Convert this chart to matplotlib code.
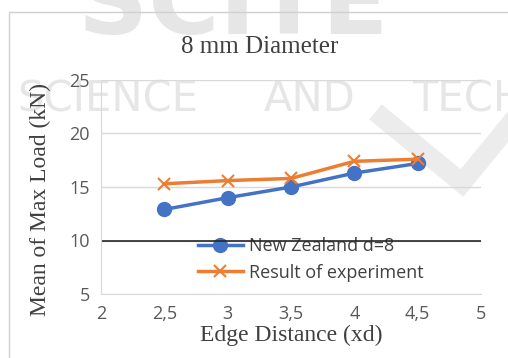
import matplotlib.pyplot as plt
from matplotlib.patches import Rectangle
from matplotlib.lines import Line2D

edge = [2.5, 3, 3.5, 4, 4.5]
nz_d8 = [12.9, 14.0, 15.0, 16.3, 17.2]
experiment = [15.3, 15.6, 15.8, 17.4, 17.6]
xticks = [2, 2.5, 3, 3.5, 4, 4.5, 5]
xticklabels = ["2", "2,5", "3", "3,5", "4", "4,5", "5"]
yticks = [5, 10, 15, 20, 25]

W, H = 508, 358
fig = plt.figure(figsize=(5.08, 3.58), dpi=100)

# faint publisher watermark behind the chart
wm = "#e6e6e6"
for word, xc in [("SCIENCE", 108), ("AND", 310), ("TECH", 468)]:
    fig.text(xc / W, 1 - 99 / H, word, ha="center", va="center", fontsize=30,
             color=wm, family="DejaVu Sans", zorder=0)
fig.text(0.46, 1 - 34 / H, "SCITE", ha="center", va="baseline", fontsize=70,
         color=wm, family="DejaVu Sans", fontweight="bold", zorder=0)
fig.lines.append(Line2D([383 / W, 462 / W, 520 / W], [1 - 118 / H, 1 - 183 / H, 1 - 112 / H],
                        transform=fig.transFigure, color="#ececec", lw=14, zorder=0,
                        solid_joinstyle="miter"))
fig.patches.append(Rectangle((9 / W, -0.1), 1.2, 1.1 - 12 / H, transform=fig.transFigure,
                             fill=False, edgecolor="#d0d0d0", lw=1, zorder=1))

ax = fig.add_axes([101 / W, 1 - 294 / H, 380 / W, 214 / H])
ax.set_zorder(2)
ax.patch.set_alpha(0)

ax.plot(edge, nz_d8, color="#4472C4", lw=2.5, marker="o", markersize=10,
        label="New Zealand d=8", zorder=3)
ax.plot(edge, experiment, color="#ED7D31", lw=2.5, marker="x", markersize=8,
        markeredgewidth=1.5, label="Result of experiment", zorder=3)

ax.set_xlim(2, 5)
ax.set_ylim(5, 25)
ax.set_xticks(xticks)
ax.set_xticklabels(xticklabels)
ax.set_yticks(yticks)
ax.grid(axis="y", color="#d9d9d9", lw=1)
ax.axhline(10, color="#262626", lw=1.2, zorder=2)
ax.set_axisbelow(True)
for s in ["top", "right"]:
    ax.spines[s].set_visible(False)
ax.spines["left"].set_color("#d9d9d9")
ax.spines["bottom"].set_color("#d9d9d9")
ax.tick_params(length=0, labelsize=13, labelcolor="#595959", pad=8)
for lab in ax.get_xticklabels() + ax.get_yticklabels():
    lab.set_family("Open Sans")

serif = "Liberation Serif"
fig.text(0.512, 1 - 47 / H, "8 mm Diameter", ha="center", va="center",
         fontsize=18, family=serif, color="#404040", zorder=3)
ax.set_xlabel("Edge Distance (xd)", fontsize=17, family=serif, color="#404040", labelpad=1)
fig.text(40 / W, 1 - 200 / H, "Mean of Max Load (kN)", rotation=90, ha="center",
         va="center", fontsize=17, family=serif, color="#404040", zorder=3)

leg = ax.legend(loc="upper left", bbox_to_anchor=(0.212, 0.34), frameon=False,
                prop={"family": "Open Sans", "size": 13}, labelcolor="#404040",
                handlelength=2.5, handletextpad=0.35, labelspacing=0.45)
leg.set_zorder(1)

fig.savefig("out.png", dpi=100)
